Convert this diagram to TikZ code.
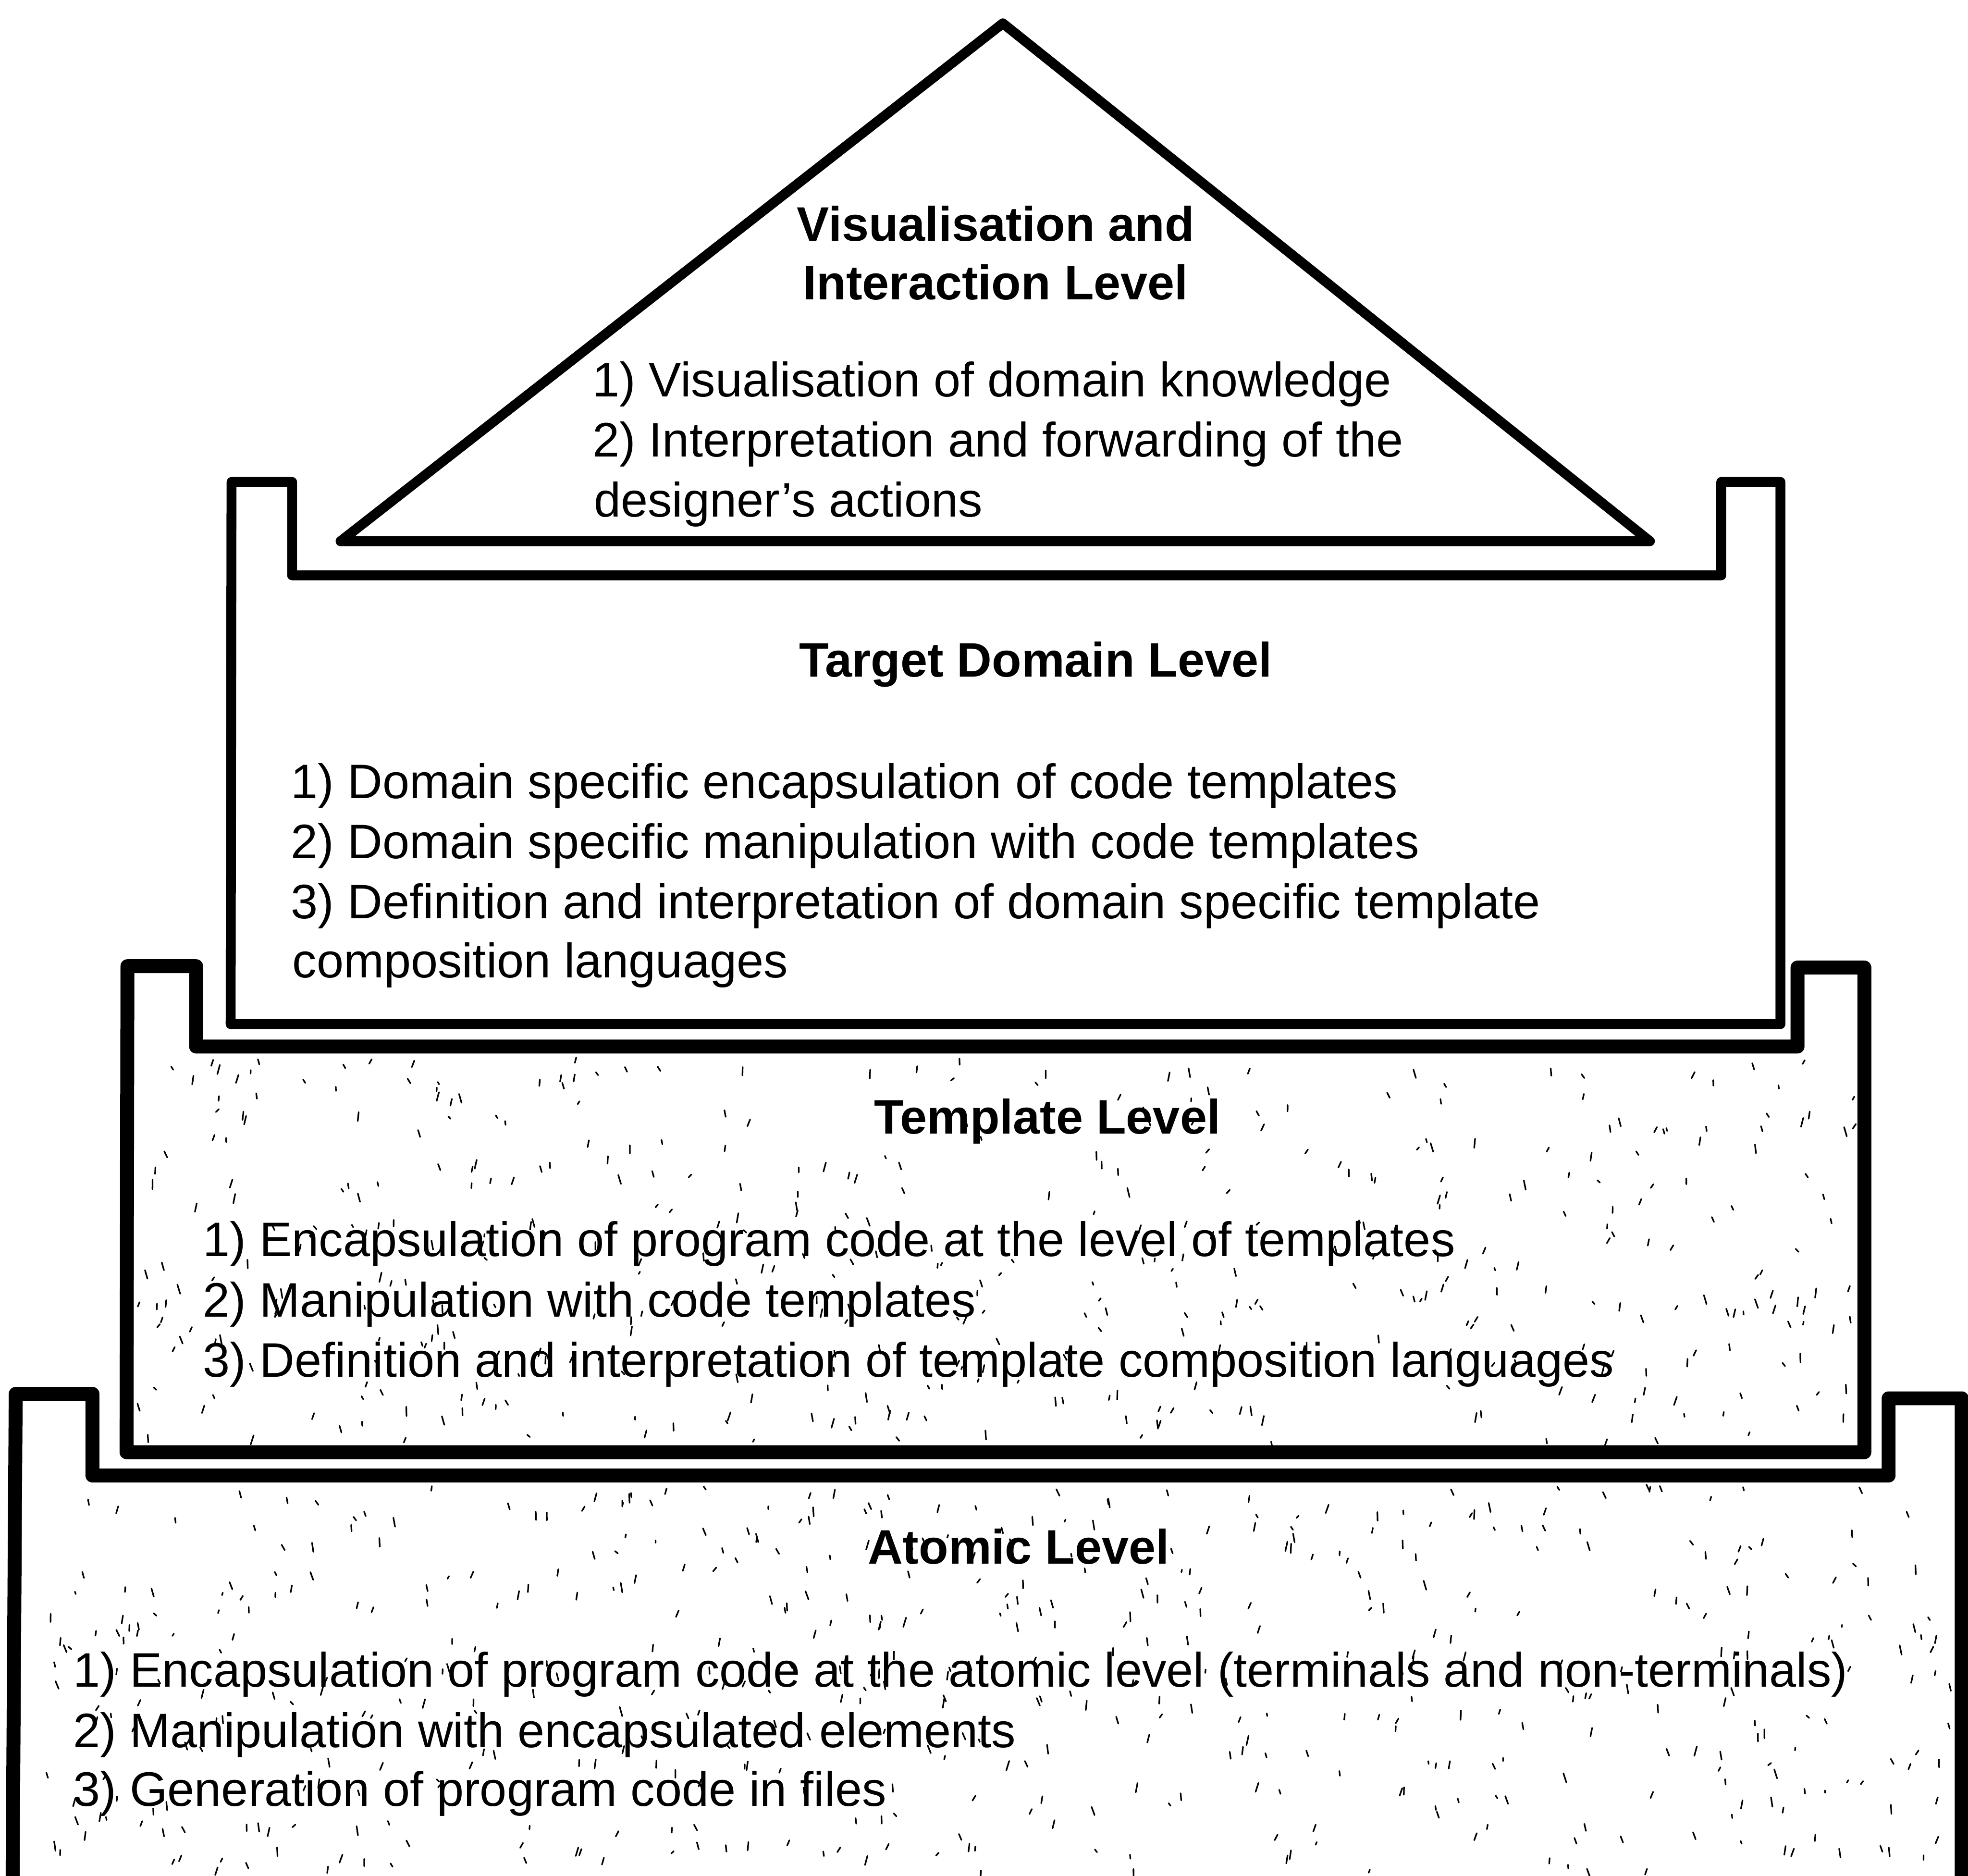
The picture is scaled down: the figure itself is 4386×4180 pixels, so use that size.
\documentclass[tikz,border=0pt]{standalone}
\usepackage{fontspec}
\setmainfont{Liberation Sans}
\begin{document}
\begin{tikzpicture}[x=0.01cm,y=-0.01cm,
  wall/.style={draw=black, line join=round, line cap=round},
  thinwall/.style={wall, line width=0.22cm},
  thickwall/.style={wall, line width=0.31cm},
  title/.style={font=\fontsize{30.7}{38}\selectfont\bfseries, inner sep=0, anchor=base},
  item/.style={font=\fontsize{30.7}{38}\selectfont, inner sep=0, anchor=base west},
  speck/.style={line width=0.035cm, line cap=round}]
\useasboundingbox (0,0) rectangle (4386,4180);
\clip (0,0) rectangle (4386,4180);

% speckled grain inside the two lower levels
\pgfmathsetseed{4242}
\foreach \k in {1,...,450}{
  \pgfmathsetmacro{\sx}{300+rnd*3840}
  \pgfmathsetmacro{\sy}{2355+rnd*862}
  \pgfmathsetmacro{\dx}{(rnd-0.5)*14}
  \pgfmathsetmacro{\dy}{5+rnd*16}
  \draw[speck] (\sx,\sy) -- ++(\dx,\dy);
}
\foreach \k in {1,...,520}{
  \pgfmathsetmacro{\sx}{55+rnd*4300}
  \pgfmathsetmacro{\sy}{3308+rnd*860}
  \pgfmathsetmacro{\dx}{(rnd-0.5)*14}
  \pgfmathsetmacro{\dy}{5+rnd*16}
  \draw[speck] (\sx,\sy) -- ++(\dx,\dy);
}

% atomic level
\draw[thickwall] (35,3106) -- (206,3106) -- (206,3288) -- (4209,3288) -- (4209,3116)
  -- (4372,3116) -- (4372,4200) -- (28,4200) -- cycle;
% template level
\draw[thickwall] (284,2153) -- (437,2153) -- (437,2332) -- (4006,2332) -- (4006,2156)
  -- (4155,2156) -- (4155,3236) -- (282,3236) -- cycle;
% target domain level
\draw[thinwall] (516,1074) -- (651,1074) -- (651,1282) -- (3836,1282) -- (3836,1074)
  -- (3968,1074) -- (3968,2282) -- (514,2282) -- cycle;
% visualisation and interaction level (roof)
\draw[thinwall] (2235,52) -- (3677,1206) -- (759,1206) -- cycle;

% roof texts
\node[title] (visT1) at (2219,537) {Visualisation and};
\node[title] (visT2) at (2219,668) {Interaction Level};
\node[item] (vis1) at (1320,884) {1) Visualisation of domain knowledge};
\node[item] (vis2) at (1320,1018) {2) Interpretation and forwarding of the};
\node[item] (vis3) at (1323,1152) {designer’s actions};

% target domain texts
\node[title] (tdT) at (2308,1508) {Target Domain Level};
\node[item] (td1) at (648,1779) {1) Domain specific encapsulation of code templates};
\node[item] (td2) at (648,1913) {2) Domain specific manipulation with code templates};
\node[item] (td3) at (648,2047) {3) Definition and interpretation of domain specific template};
\node[item] (td4) at (651,2179) {composition languages};

% template texts
\node[title] (tpT) at (2334,2526) {Template Level};
\node[item] (tp1) at (452,2800) {1) Encapsulation of program code at the level of templates};
\node[item] (tp2) at (452,2934) {2) Manipulation with code templates};
\node[item] (tp3) at (452,3068) {3) Definition and interpretation of template composition languages};

% atomic texts
\node[title] (atT) at (2270,3485) {Atomic Level};
\node[item] (at1) at (163,3759) {1) Encapsulation of program code at the atomic level (terminals and non-terminals)};
\node[item] (at2) at (163,3894) {2) Manipulation with encapsulated elements};
\node[item] (at3) at (163,4025) {3) Generation of program code in files};
\end{tikzpicture}
\end{document}
